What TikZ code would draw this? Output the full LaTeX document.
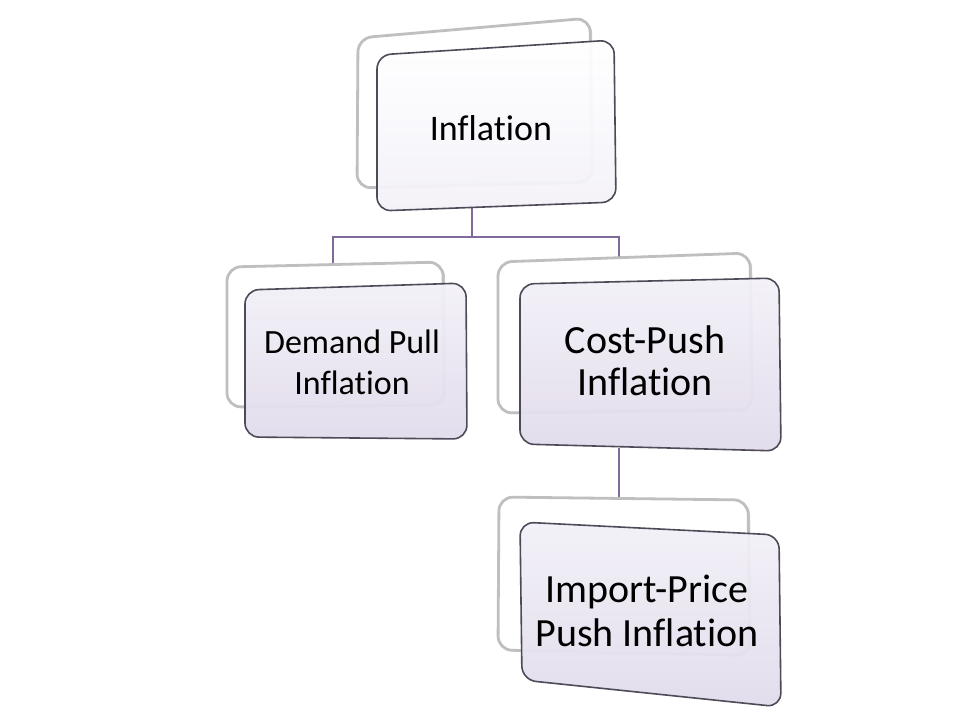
\documentclass[tikz,border=0pt]{standalone}
\usepackage{fontspec}
\setmainfont[Ligatures=NoCommon]{Carlito}
\usetikzlibrary{positioning,shadows}
\definecolor{linkpurple}{HTML}{7F6A9C}
\definecolor{boxedge}{HTML}{4E4A58}
\definecolor{lavtop}{HTML}{F3F1F8}
\definecolor{lavbot}{HTML}{E1DBEB}
\tikzset{
    backframe/.style={draw=gray!50, line width=1.4pt, fill=white, rounded corners=7pt,
        drop shadow={shadow xshift=1pt, shadow yshift=-0.6pt, opacity=0.35}},
    frontbox/.style={draw=boxedge, line width=0.8pt, rounded corners=7pt,
        top color=lavtop, bottom color=lavbot, fill opacity=0.95},
    link/.style={draw=linkpurple, line width=0.9pt},
    boxtext/.style={align=center, text=black, inner sep=0pt}
}

\begin{document}
\begin{tikzpicture}[x=0.5pt,y=-0.5pt]
    \useasboundingbox (0,0) rectangle (960,720);

    % connector ends
    \coordinate (infl-s)   at (472,206);
    \coordinate (demand-n) at (333,266);
    \coordinate (cost-n)   at (619,257);
    \coordinate (cost-s)   at (619,448);
    \coordinate (import-n) at (619,499);

    \draw[link] (infl-s) -- ++(0,31) -| (demand-n);
    \draw[link] (infl-s) -- ++(0,31) -| (cost-n);
    \draw[link] (cost-s) -- (import-n);

    % Inflation
    \path[backframe] (358,38) -- (590,18) -- (592,182) -- (357,188) -- cycle;
    \path[frontbox, top color=white, bottom color=lavtop]
        (377,55) -- (614,40) -- (616,202) -- (377,211) -- cycle;
    \node[boxtext, font=\fontsize{18}{21}\selectfont] (infl) at (491,128) {Inflation};

    % Demand Pull
    \path[backframe] (227,267) -- (443,262) -- (444,405) -- (227,407) -- cycle;
    \path[frontbox] (245,290) -- (466,283) -- (467,439) -- (245,437) -- cycle;
    \node[boxtext, font=\fontsize{17}{20.5}\selectfont] (demand) at (352,362)
        {Demand Pull\\Inflation};

    % Cost-Push
    \path[backframe] (498,262) -- (750,253) -- (752,410) -- (498,413) -- cycle;
    \path[frontbox] (520,284) -- (779,278) -- (781,451) -- (520,444) -- cycle;
    \node[boxtext, font=\fontsize{20}{21}\selectfont] (cost) at (645,361)
        {Cost-Push\\Inflation};

    % Import-Price
    \path[backframe] (499,497) -- (748,500) -- (750,655) -- (498,650) -- cycle;
    \path[frontbox] (520,522) -- (779,535) -- (781,707) -- (522,680) -- cycle;
    \node[boxtext, font=\fontsize{20}{22}\selectfont] (import) at (647,611)
        {Import-Price\\Push Inflation};
\end{tikzpicture}
\end{document}
